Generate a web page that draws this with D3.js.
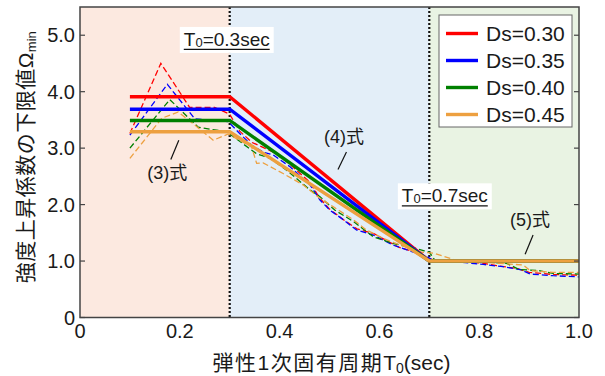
<!DOCTYPE html>
<html>
<head>
<meta charset="utf-8">
<script src="https://cdn.jsdelivr.net/npm/d3@7"></script>
<style>
  body { margin: 0; background: #fff; }
  svg { display: block; }
  text { font-family: "Liberation Sans", Arial, "Noto Sans CJK JP", sans-serif; fill: #1a1a1a; }
</style>
</head>
<body>
<svg id="chart" width="605" height="376"></svg>
<script>
// ---- data -------------------------------------------------------------
const seriesLabels = ["Ds=0.30", "Ds=0.35", "Ds=0.40", "Ds=0.45"];
const seriesColors = ["#ff0000", "#0000ff", "#008000", "#eda040"];

// design curve: plateau value for T0 <= 0.3, linear to 1.0 at T0 = 0.7, then 1.0
const plateauValues = [3.91, 3.69, 3.49, 3.29];
const corner1 = 0.3;
const corner2 = 0.7;
const designStart = 0.1;
const designEnd = 1.0;
const floorValue = 1.0;

// analysis results (dashed), one period list per damping series
const periods030 = [0.10, 0.162, 0.22, 0.27, 0.30, 0.32, 0.345, 0.37, 0.39, 0.42, 0.46, 0.48, 0.50, 0.53, 0.555, 0.59, 0.64, 0.68, 0.70, 0.72, 0.80, 0.835, 0.875, 0.90, 0.95, 1.00];
const values030  = [3.26, 4.50, 3.72, 3.72, 3.60, 3.30, 3.10, 3.00, 2.92, 2.72, 2.40, 2.12, 1.92, 1.72, 1.57, 1.48, 1.24, 1.14, 1.04, 1.00, 0.97, 0.92, 0.87, 0.80, 0.76, 0.75];

const periods035 = [0.10, 0.175, 0.23, 0.297, 0.32, 0.344, 0.367, 0.387, 0.421, 0.461, 0.481, 0.501, 0.528, 0.554, 0.588, 0.628, 0.668, 0.695, 0.71, 0.75, 0.808, 0.848, 0.882, 0.902, 0.948, 1.00];
const values035  = [3.23, 4.13, 3.52, 3.47, 3.26, 3.05, 2.93, 2.88, 2.67, 2.35, 2.08, 1.90, 1.73, 1.55, 1.46, 1.28, 1.16, 1.08, 1.00, 0.99, 0.94, 0.90, 0.85, 0.77, 0.74, 0.72];

const periods040 = [0.10, 0.18, 0.237, 0.294, 0.354, 0.381, 0.414, 0.461, 0.481, 0.511, 0.548, 0.588, 0.628, 0.675, 0.69, 0.70, 0.71, 0.78, 0.855, 0.88, 0.92, 0.948, 1.00];
const values040  = [3.00, 3.86, 3.37, 3.29, 2.90, 2.82, 2.61, 2.26, 2.14, 1.90, 1.70, 1.43, 1.31, 1.22, 1.18, 1.16, 1.03, 1.00, 0.96, 0.85, 0.83, 0.78, 0.77];

const periods045 = [0.10, 0.137, 0.164, 0.197, 0.23, 0.267, 0.297, 0.344, 0.354, 0.367, 0.407, 0.447, 0.481, 0.508, 0.548, 0.574, 0.608, 0.631, 0.681, 0.708, 0.748, 0.788, 0.888, 0.902, 0.948, 1.00];
const values045  = [2.82, 3.23, 3.53, 3.64, 3.41, 3.14, 3.25, 3.02, 2.73, 2.74, 2.55, 2.35, 2.11, 1.96, 1.73, 1.55, 1.40, 1.32, 1.16, 1.14, 1.03, 0.99, 0.93, 0.83, 0.80, 0.80];

const analysisPeriods = [periods030, periods035, periods040, periods045];
const analysisValues = [values030, values035, values040, values045];

// background zones
const zoneBounds = [[0, 0.3], [0.3, 0.7], [0.7, 1.0]];
const zoneColors = ["#fce9e0", "#e3eef8", "#e9f3e3"];

const xTicks = [0, 0.2, 0.4, 0.6, 0.8, 1.0];
const yTicks = [0, 1, 2, 3, 4, 5];

// ---- layout ------------------------------------------------------------
const svg = d3.select("#chart");
const W = 605, H = 376;
const m = { left: 80, right: 26, top: 7, bottom: 58.5 };

const x = d3.scaleLinear().domain([0, 1.0]).range([m.left, W - m.right]);
const y = d3.scaleLinear().domain([0, 5.5]).range([H - m.bottom, m.top]);

const fmt = v => v === 0 ? "0" : d3.format(".1f")(v);

// zones
svg.append("g").selectAll("rect").data(zoneBounds).join("rect")
  .attr("x", d => x(d[0])).attr("y", y(5.5))
  .attr("width", d => x(d[1]) - x(d[0]))
  .attr("height", y(0) - y(5.5))
  .attr("fill", (d, i) => zoneColors[i]);

// zone separators
svg.append("g").selectAll("line").data([corner1, corner2]).join("line")
  .attr("x1", d => x(d)).attr("x2", d => x(d))
  .attr("y1", y(5.5)).attr("y2", y(0))
  .attr("stroke", "#111").attr("stroke-width", 2.2)
  .attr("stroke-dasharray", "2,2");

const line = d3.line().x(d => x(d[0])).y(d => y(d[1]));

// analysis curves
const dashG = svg.append("g");
analysisPeriods.forEach((ps, i) => {
  const pts = ps.map((p, j) => [p, analysisValues[i][j]]);
  dashG.append("path").datum(pts)
    .attr("d", line).attr("fill", "none")
    .attr("stroke", seriesColors[i]).attr("stroke-width", 1.3)
    .attr("stroke-dasharray", "6,3");
});

// design curves
const solidG = svg.append("g");
plateauValues.forEach((pv, i) => {
  const pts = [[designStart, pv], [corner1, pv], [corner2, floorValue], [designEnd, floorValue]];
  solidG.append("path").datum(pts)
    .attr("d", line).attr("fill", "none")
    .attr("stroke", seriesColors[i]).attr("stroke-width", 3.4)
    .attr("stroke-linejoin", "miter");
});

// annotations: equation numbers with leader lines
const notes = [
  { label: "(3)", at: [0.175, 2.56], lead: [[0.182, 2.80], [0.198, 3.14]] },
  { label: "(4)", at: [0.529, 3.19], lead: [[0.517, 2.62], [0.534, 2.93]] },
  { label: "(5)", at: [0.902, 1.73], lead: [[0.892, 1.12], [0.908, 1.46]] }
];
const noteG = svg.append("g");
notes.forEach(n => {
  noteG.append("line")
    .attr("x1", x(n.lead[0][0])).attr("y1", y(n.lead[0][1]))
    .attr("x2", x(n.lead[1][0])).attr("y2", y(n.lead[1][1]))
    .attr("stroke", "#111").attr("stroke-width", 1.2);
  const t = noteG.append("text")
    .attr("x", x(n.at[0])).attr("y", y(n.at[1]))
    .attr("text-anchor", "middle").attr("dominant-baseline", "central")
    .attr("font-size", 18);
  t.append("tspan").text(n.label);
  t.append("tspan").text("式");
});

// period markers T0=0.3sec / T0=0.7sec
const markers = [
  { value: "0.3", at: [0.208, 4.81] },
  { value: "0.7", at: [0.645, 2.04] }
];
markers.forEach(mk => {
  const g = svg.append("g");
  const t = g.append("text")
    .attr("x", x(mk.at[0])).attr("y", y(mk.at[1]))
    .attr("font-size", 19);
  t.append("tspan").text("T");
  t.append("tspan").attr("font-size", 13).attr("dy", 1).text("0");
  t.append("tspan").attr("dy", -1).text("=" + mk.value + "sec");
  const bb = t.node().getBBox();
  g.insert("rect", "text")
    .attr("x", bb.x - 4).attr("y", bb.y - 2)
    .attr("width", bb.width + 8).attr("height", bb.height + 5)
    .attr("fill", "#fff");
  g.append("line")
    .attr("x1", bb.x).attr("x2", bb.x + bb.width)
    .attr("y1", y(mk.at[1]) + 3.5).attr("y2", y(mk.at[1]) + 3.5)
    .attr("stroke", "#111").attr("stroke-width", 1.3);
});

// frame
svg.append("rect")
  .attr("x", x(0)).attr("y", y(5.5))
  .attr("width", x(1) - x(0)).attr("height", y(0) - y(5.5))
  .attr("fill", "none").attr("stroke", "#444").attr("stroke-width", 1.5);

// inward y ticks on both sides
const tickG = svg.append("g");
yTicks.forEach(v => {
  tickG.append("line").attr("x1", x(0)).attr("x2", x(0) + 5)
    .attr("y1", y(v)).attr("y2", y(v)).attr("stroke", "#444").attr("stroke-width", 1.2);
  tickG.append("line").attr("x1", x(1)).attr("x2", x(1) - 5)
    .attr("y1", y(v)).attr("y2", y(v)).attr("stroke", "#444").attr("stroke-width", 1.2);
});

// tick labels
svg.append("g").selectAll("text").data(yTicks).join("text")
  .attr("x", x(0) - 5).attr("y", d => y(d))
  .attr("text-anchor", "end").attr("dominant-baseline", "central")
  .attr("font-size", 20).text(fmt);
svg.append("g").selectAll("text").data(xTicks).join("text")
  .attr("x", d => x(d)).attr("y", y(0) + 20)
  .attr("text-anchor", "middle")
  .attr("font-size", 20).text(fmt);

// axis titles
const xt = svg.append("text")
  .attr("x", (x(0) + x(1)) / 2 + 2).attr("y", 370)
  .attr("text-anchor", "middle").attr("font-size", 21);
xt.append("tspan").attr("letter-spacing", 1.5).text("弾性1次固有周期");
xt.append("tspan").text("T");
xt.append("tspan").attr("font-size", 14).attr("dy", 3).text("0");
xt.append("tspan").attr("dy", -3).text("(sec)");

const yt = svg.append("text")
  .attr("transform", `translate(33, ${(y(0) + y(5.5)) / 2 - 5}) rotate(-90)`)
  .attr("text-anchor", "middle").attr("font-size", 21);
yt.append("tspan").attr("letter-spacing", 0.5).text("強度上昇係数の下限値Ω");
yt.append("tspan").attr("font-size", 13).attr("dy", 3).text("min");

// legend
const lg = svg.append("g").attr("transform", "translate(439,15)");
lg.append("rect").attr("width", 133).attr("height", 112)
  .attr("fill", "#fff").attr("stroke", "#666").attr("stroke-width", 1);
seriesLabels.forEach((s, i) => {
  const yy = 18.5 + i * 27;
  lg.append("line").attr("x1", 7).attr("x2", 39).attr("y1", yy).attr("y2", yy)
    .attr("stroke", seriesColors[i]).attr("stroke-width", 3.4);
  lg.append("text").attr("x", 47).attr("y", yy).attr("dominant-baseline", "central")
    .attr("font-size", 21).text(s);
});
</script>
</body>
</html>
